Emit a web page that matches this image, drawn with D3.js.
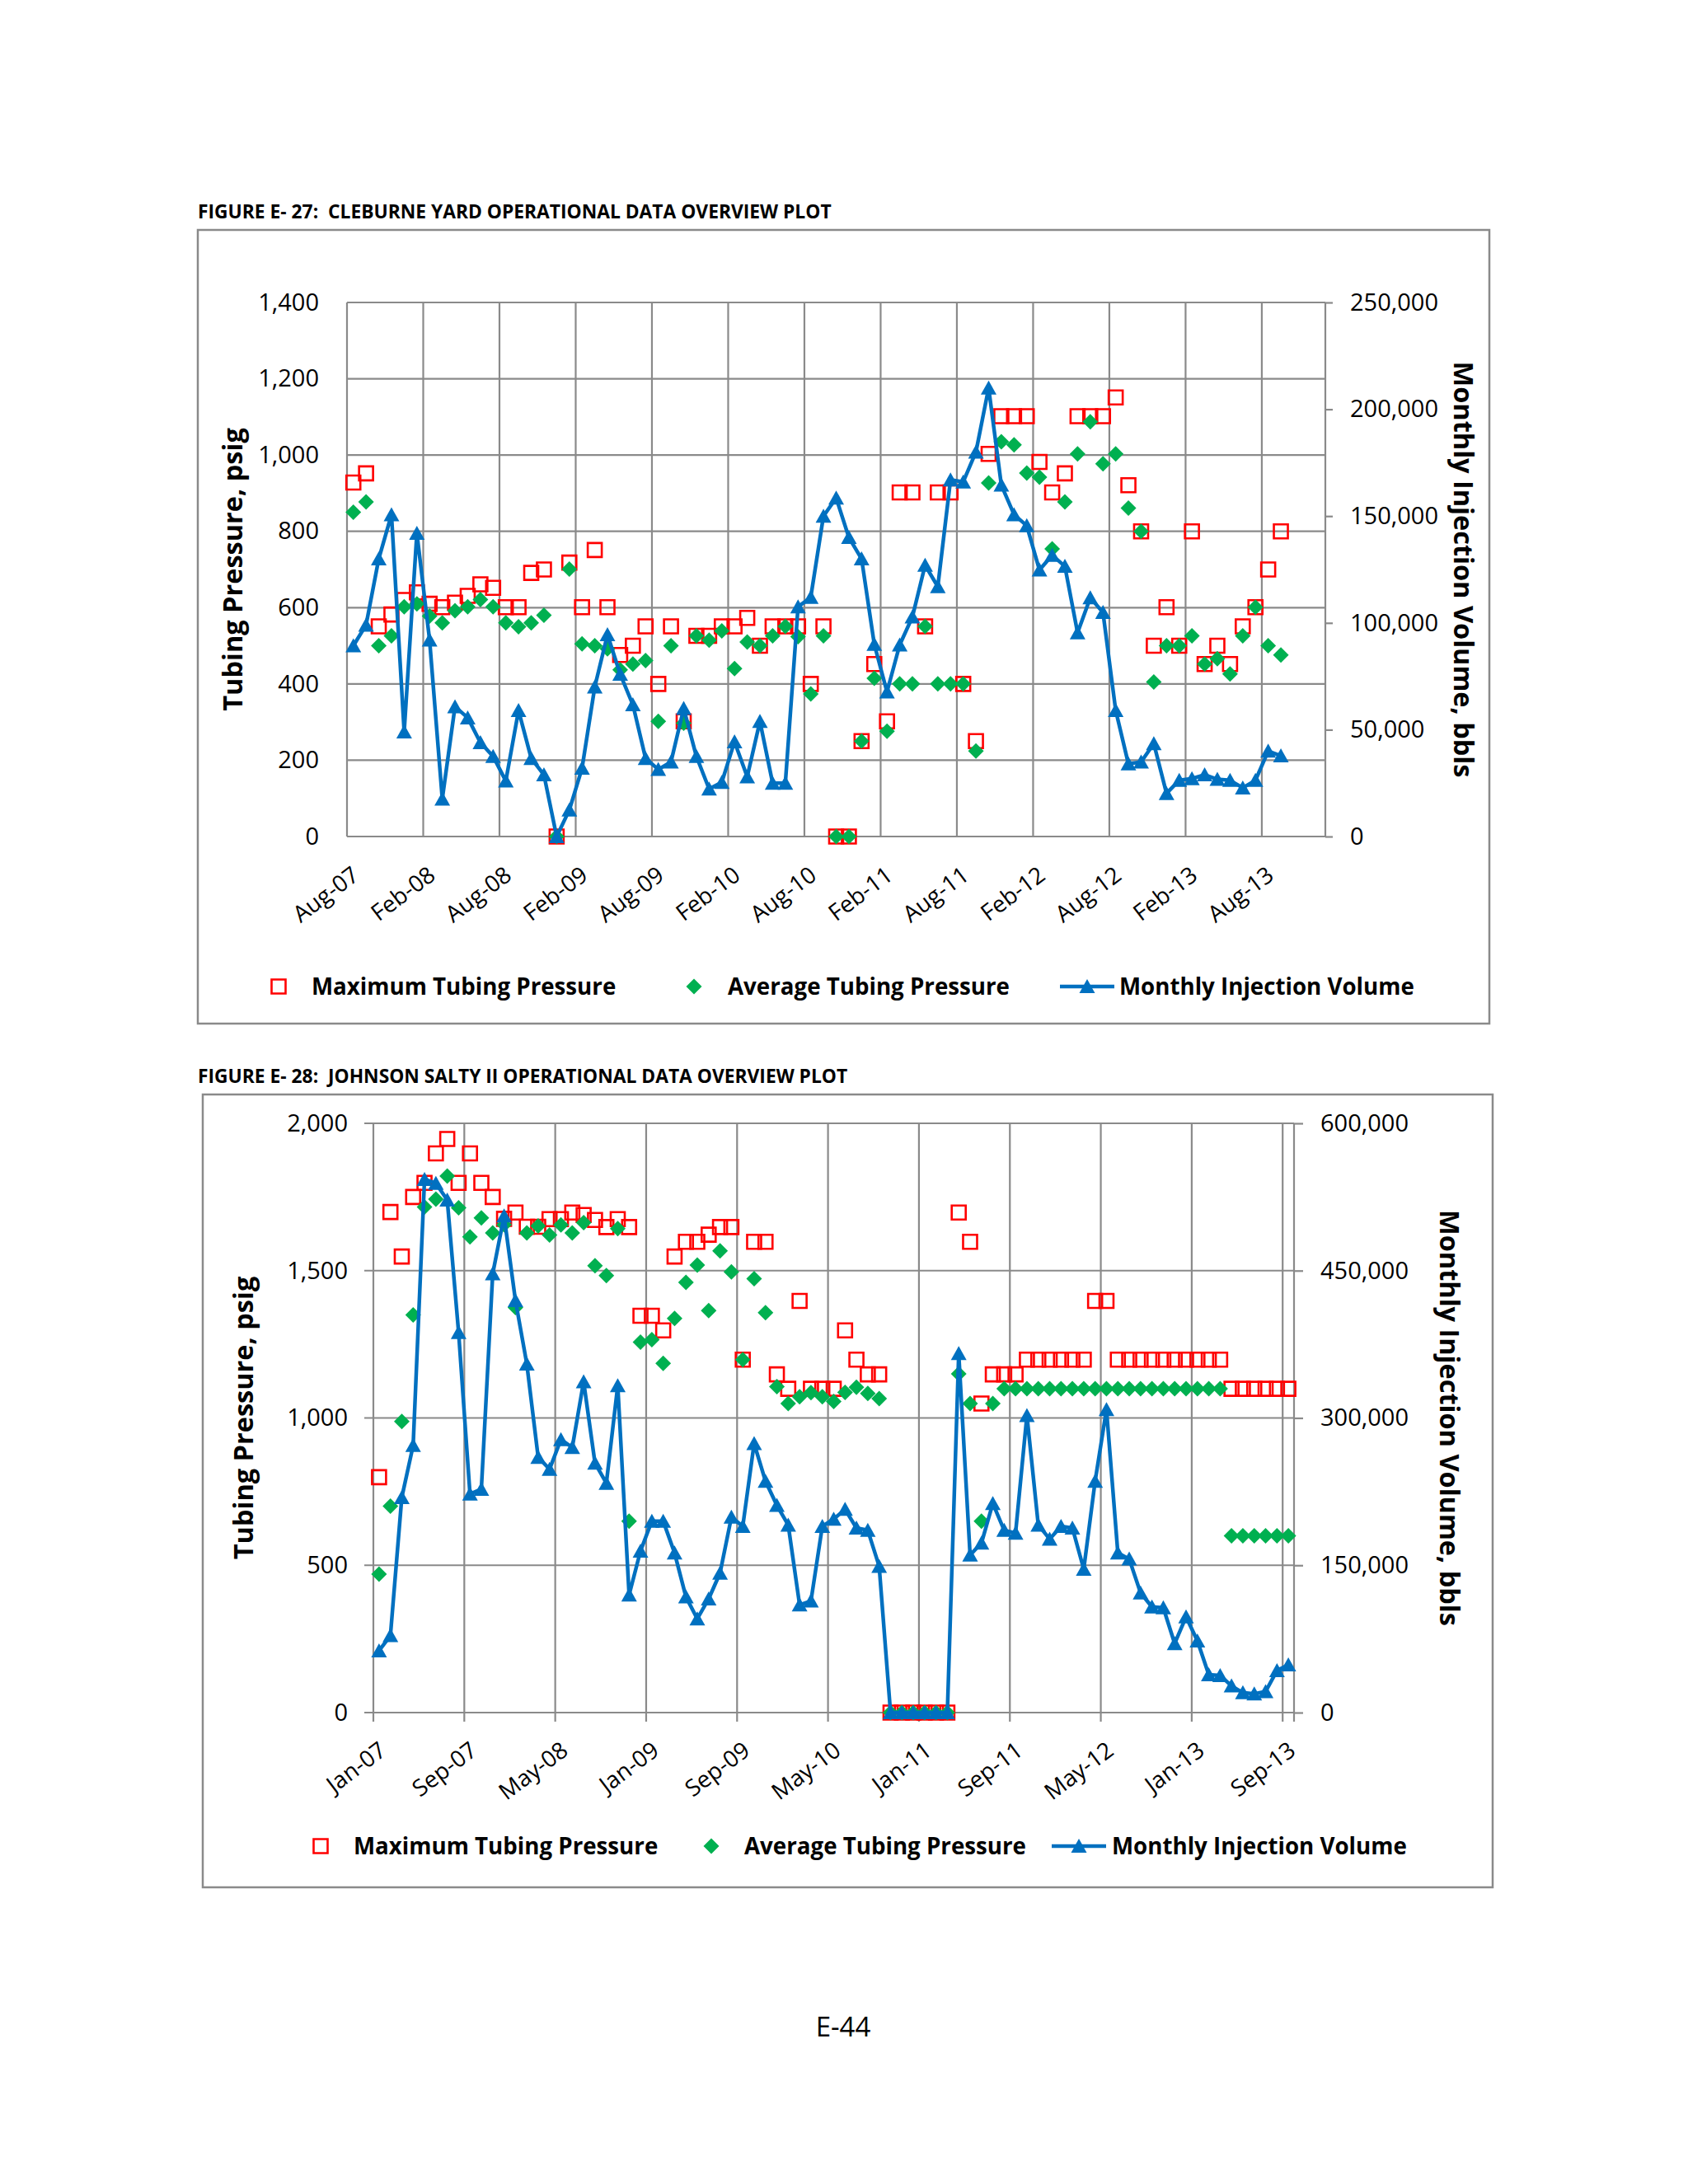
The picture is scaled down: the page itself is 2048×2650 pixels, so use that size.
<!DOCTYPE html>
<html><head><meta charset="utf-8">
<script src="https://cdn.jsdelivr.net/npm/d3@7"></script>
<style>
html,body{margin:0;padding:0;background:#fff;}
svg{display:block;}
text{font-family:"Open Sans",sans-serif;fill:#000;}
</style></head><body>
<svg id="page" width="2048" height="2650"></svg>
<script>
// ---------------- DATA: Figure E-27 (Cleburne Yard) ----------------
const cleburneTitle = "FIGURE E- 27:  CLEBURNE YARD OPERATIONAL DATA OVERVIEW PLOT";
const cleburneFirstMonth = "2007-08";
const cleburneMaxPressure = [
  928, 952, 551, 582, 620, 640, 610, 601, 613, 631,
  661, 652, 601, 601, 691, 700, 0, 718, 601, 751,
  601, 476, 500, 551, 400, 551, 302, 526, 526, 551,
  551, 573, 500, 551, 551, 551, 400, 551, 0, 0,
  250, 452, 302, 902, 902, 551, 902, 902, 400, 250,
  1003, 1102, 1102, 1102, 982, 902, 952, 1102, 1102, 1102,
  1151, 921, 800, 500, 601, 500, 800, 452, 500, 452,
  551, 601, 700, 800];
const cleburneAvgPressure = [
  850, 877, 500, 526, 602, 610, 578, 560, 592, 602,
  621, 602, 560, 550, 560, 580, 0, 701, 505, 500,
  492, 437, 452, 461, 302, 500, 297, 526, 515, 539,
  440, 510, 500, 526, 551, 524, 374, 526, 0, 0,
  250, 415, 276, 400, 400, 551, 400, 400, 400, 224,
  927, 1035, 1027, 953, 942, 754, 877, 1003, 1087, 977,
  1003, 861, 800, 405, 500, 500, 526, 452, 466, 426,
  526, 601, 500, 476];
const cleburneVolume = [
  89300, 99000, 130000, 150700, 49000, 142000, 92000, 17600, 60800, 55600,
  44000, 37500, 26000, 59000, 36600, 28900, 0, 12400, 32000, 70000,
  94500, 76000, 61700, 36600, 31400, 34900, 60000, 37500, 22300, 25400,
  44400, 28000, 53900, 25000, 25000, 107500, 112000, 150000, 158500, 140000,
  130000, 90000, 67700, 89700, 102800, 127000, 117000, 167000, 166000, 180000,
  210000, 164500, 150700, 145500, 124800, 131700, 126500, 95400, 111800, 104900,
  59000, 34000, 34900, 43500, 20200, 26300, 27100, 28900, 26800, 26300,
  22800, 26300, 40000, 37800];
const cleburneXTicks = ["Aug-07","Feb-08","Aug-08","Feb-09","Aug-09","Feb-10","Aug-10",
  "Feb-11","Aug-11","Feb-12","Aug-12","Feb-13","Aug-13"];
const cleburneAxisEnd = "Jan-14";
const cleburneYTicks = [0, 200, 400, 600, 800, 1000, 1200, 1400];
const cleburneY2Ticks = [0, 50000, 100000, 150000, 200000, 250000];

// ---------------- DATA: Figure E-28 (Johnson Salty II) ----------------
const johnsonTitle = "FIGURE E- 28:  JOHNSON SALTY II OPERATIONAL DATA OVERVIEW PLOT";
const johnsonFirstMonth = "2007-01";
const johnsonMaxPressure = [
  799, 1699, 1548, 1750, 1798, 1898, 1947, 1798, 1898, 1798,
  1750, 1676, 1697, 1649, 1649, 1675, 1675, 1697, 1689, 1672,
  1648, 1675, 1648, 1347, 1347, 1297, 1548, 1598, 1598, 1622,
  1648, 1648, 1198, 1598, 1598, 1148, 1099, 1397, 1099, 1099,
  1099, 1297, 1198, 1148, 1148, 0, 0, 0, 0, 0,
  0, 1697, 1598, 1049, 1148, 1148, 1148, 1198, 1198, 1198,
  1198, 1198, 1198, 1397, 1397, 1198, 1198, 1198, 1198, 1198,
  1198, 1198, 1198, 1198, 1198, 1099, 1099, 1099, 1099, 1099,
  1099];
const johnsonAvgPressure = [
  470, 701, 988, 1350, 1716, 1743, 1821, 1713, 1615, 1679,
  1628, 1656, 1375, 1628, 1652, 1621, 1655, 1628, 1663, 1517,
  1483, 1643, 650, 1257, 1266, 1185, 1338, 1460, 1519, 1364,
  1567, 1496, 1198, 1473, 1357, 1106, 1049, 1072, 1086, 1072,
  1056, 1087, 1104, 1083, 1066, 0, 0, 0, 0, 0,
  0, 1150, 1049, 650, 1049, 1099, 1099, 1099, 1099, 1099,
  1099, 1099, 1099, 1099, 1099, 1099, 1099, 1099, 1099, 1099,
  1099, 1099, 1099, 1099, 1099, 600, 600, 600, 600, 600,
  600];
const johnsonVolume = [
  63000, 78400, 219000, 272000, 543000, 539000, 522000, 387000, 222600, 227500,
  446800, 505700, 419600, 355000, 260000, 247800, 278000, 270000, 337000, 254000,
  233600, 333000, 119800, 164500, 195000, 195000, 162500, 117800, 95500, 115800,
  142000, 199000, 189700, 274000, 235600, 211000, 191000, 109700, 113700, 189700,
  197000, 207000, 188000, 185600, 149000, 0, 0, 0, 0, 0,
  0, 365600, 160400, 172600, 213000, 185600, 182800, 302600, 191000, 176700,
  189700, 188000, 146000, 235600, 308700, 162500, 156400, 121900, 107600, 106800,
  70300, 97500, 73000, 38600, 37800, 27200, 20300, 19100, 21500, 42700,
  48700];
const johnsonXTicks = ["Jan-07","Sep-07","May-08","Jan-09","Sep-09","May-10",
  "Jan-11","Sep-11","May-12","Jan-13","Sep-13"];
const johnsonAxisEnd = "Oct-13";
const johnsonYTicks = [0, 500, 1000, 1500, 2000];
const johnsonY2Ticks = [0, 150000, 300000, 450000, 600000];

const legendLabels = ["Maximum Tubing Pressure", "Average Tubing Pressure", "Monthly Injection Volume"];
const yTitle = "Tubing Pressure, psig";
const y2Title = "Monthly Injection Volume, bbls";
const pageNumber = "E-44";

// ---------------- DRAWING ----------------
const RED = "#ff0000", GREEN = "#00b050", BLUE = "#0070c0", GRID = "#8a8a8a";
const parseMonth = d3.timeParse("%Y-%m");
const parseTick = d3.timeParse("%b-%y");
const monthIndex = (d, s) => (d.getFullYear() - s.getFullYear()) * 12 + d.getMonth() - s.getMonth();
const svg = d3.select("#page");
const fmt = d3.format(",");

const squarePath = "M-8.5,-8.5H8.5V8.5H-8.5Z";
const diamondPath = "M0,-9.5L9.5,0L0,9.5L-9.5,0Z";
const trianglePath = "M0,-9L9.5,8L-9.5,8Z";

function drawChart(o) {
  const root = svg.append("g");
  root.append("rect")
    .attr("x", o.box[0]).attr("y", o.box[1])
    .attr("width", o.box[2] - o.box[0]).attr("height", o.box[3] - o.box[1])
    .attr("fill", "#fff").attr("stroke", GRID).attr("stroke-width", 2.5);
  svg.append("text").attr("x", o.titleX).attr("y", o.titleY)
    .attr("font-size", 22.8).attr("font-weight", 700)
    .style("white-space", "pre").text(o.title);

  const axisStart = parseTick(o.xTicks[0]);
  const span = monthIndex(parseTick(o.axisEnd), axisStart);
  const months = d3.timeMonth.range(parseMonth(o.firstMonth), d3.timeMonth.offset(parseMonth(o.firstMonth), o.volume.length));
  const xi = months.map(m => monthIndex(m, axisStart) + 0.5);

  const x = d3.scaleLinear().domain([0, span]).range([o.left, o.right]);
  const yL = d3.scaleLinear().domain(d3.extent(o.yTicks)).range([o.bottom, o.top]);
  const yR = d3.scaleLinear().domain(d3.extent(o.y2Ticks)).range([o.bottom, o.top]);

  // horizontal gridlines
  root.append("g").selectAll("line").data(o.yTicks).join("line")
    .attr("x1", o.left - o.yTickOut).attr("x2", o.right)
    .attr("y1", d => yL(d)).attr("y2", d => yL(d))
    .attr("stroke", GRID).attr("stroke-width", 2.2);
  // vertical gridlines
  const tickM = o.xTicks.map(s => monthIndex(parseTick(s), axisStart));
  root.append("g").selectAll("line").data(tickM).join("line")
    .attr("x1", d => x(d)).attr("x2", d => x(d))
    .attr("y1", o.top).attr("y2", o.bottom + o.xTickOut)
    .attr("stroke", GRID).attr("stroke-width", 2.2);
  // right axis line
  root.append("line").attr("x1", o.right).attr("x2", o.right)
    .attr("y1", o.top).attr("y2", o.bottom + o.xTickOut)
    .attr("stroke", GRID).attr("stroke-width", 2.2);

  // left labels
  const la = root.append("g").attr("transform", `translate(${o.left},0)`)
    .call(d3.axisLeft(yL).tickValues(o.yTicks).tickSize(0).tickPadding(o.yPad).tickFormat(fmt));
  la.select(".domain").remove();
  la.selectAll("text").attr("font-size", 29).attr("font-family", "'Open Sans', sans-serif");
  // right axis
  const ra = root.append("g").attr("transform", `translate(${o.right},0)`)
    .call(d3.axisRight(yR).tickValues(o.y2Ticks).tickSize(o.y2TickOut).tickPadding(o.y2Pad).tickFormat(fmt));
  ra.select(".domain").remove();
  ra.selectAll("line").attr("stroke", GRID).attr("stroke-width", 2.2);
  ra.selectAll("text").attr("font-size", 29).attr("font-family", "'Open Sans', sans-serif");

  // x labels
  root.append("g").selectAll("text").data(o.xTicks).join("text")
    .attr("transform", (d, i) => `translate(${x(tickM[i]) + o.xLabDx},${o.bottom + o.xLabDy}) rotate(${o.xLabRot})`)
    .attr("text-anchor", "end").attr("dy", "0.74em")
    .attr("font-size", 28).text(d => d);

  // series: max pressure squares
  root.append("g").selectAll("path").data(o.maxP).join("path")
    .attr("d", squarePath)
    .attr("transform", (d, i) => `translate(${x(xi[i])},${yL(d)})`)
    .attr("fill", "none").attr("stroke", RED).attr("stroke-width", 2.6);
  // avg pressure diamonds
  root.append("g").selectAll("path").data(o.avgP).join("path")
    .attr("d", diamondPath)
    .attr("transform", (d, i) => `translate(${x(xi[i])},${yL(d)})`)
    .attr("fill", GREEN);
  // volume line
  const line = d3.line().x((d, i) => x(xi[i])).y(d => yR(d));
  root.append("path").datum(o.volume).attr("d", line)
    .attr("fill", "none").attr("stroke", BLUE).attr("stroke-width", 4.5).attr("stroke-linejoin", "round");
  root.append("g").selectAll("path").data(o.volume).join("path")
    .attr("d", trianglePath)
    .attr("transform", (d, i) => `translate(${x(xi[i])},${yR(d)})`)
    .attr("fill", BLUE);

  // axis titles
  const cy = (o.top + o.bottom) / 2;
  root.append("text").attr("transform", `translate(${o.yTitleX},${cy}) rotate(-90)`)
    .attr("text-anchor", "middle").attr("dy", "0.35em")
    .attr("font-size", 32.5).attr("font-weight", 700).text(yTitle);
  root.append("text").attr("transform", `translate(${o.y2TitleX},${cy}) rotate(90)`)
    .attr("text-anchor", "middle").attr("dy", "0.35em")
    .attr("font-size", 32.5).attr("font-weight", 700).text(y2Title);

  // legend
  const L = o.legend;
  const lg = root.append("g");
  lg.append("path").attr("d", squarePath).attr("transform", `translate(${L.sq},${L.y})`)
    .attr("fill", "none").attr("stroke", RED).attr("stroke-width", 2.6);
  lg.append("path").attr("d", diamondPath).attr("transform", `translate(${L.di},${L.y})`).attr("fill", GREEN);
  lg.append("line").attr("x1", L.ln[0]).attr("x2", L.ln[1]).attr("y1", L.y).attr("y2", L.y)
    .attr("stroke", BLUE).attr("stroke-width", 4.5);
  lg.append("path").attr("d", trianglePath).attr("transform", `translate(${(L.ln[0] + L.ln[1]) / 2},${L.y})`).attr("fill", BLUE);
  lg.selectAll("text").data(legendLabels).join("text")
    .attr("x", (d, i) => L.tx[i]).attr("y", L.y).attr("dy", "0.35em")
    .attr("font-size", 27.7).attr("font-weight", 700).text(d => d);
}

drawChart({
  title: cleburneTitle, titleX: 240, titleY: 265,
  box: [240, 279, 1807, 1242],
  left: 421, right: 1608, top: 367, bottom: 1015,
  firstMonth: cleburneFirstMonth, xTicks: cleburneXTicks, axisEnd: cleburneAxisEnd,
  yTicks: cleburneYTicks, y2Ticks: cleburneY2Ticks,
  maxP: cleburneMaxPressure, avgP: cleburneAvgPressure, volume: cleburneVolume,
  yTickOut: 0, xTickOut: 0, yPad: 34, y2TickOut: 9, y2Pad: 21,
  xLabDx: 4, xLabDy: 34, xLabRot: -37,
  yTitleX: 283, y2TitleX: 1775,
  legend: { y: 1197, sq: 338, di: 842, ln: [1286, 1352], tx: [378, 883, 1358] }
});

drawChart({
  title: johnsonTitle, titleX: 240, titleY: 1314,
  box: [246, 1328, 1811, 2290],
  left: 453, right: 1570, top: 1363, bottom: 2078,
  firstMonth: johnsonFirstMonth, xTicks: johnsonXTicks, axisEnd: johnsonAxisEnd,
  yTicks: johnsonYTicks, y2Ticks: johnsonY2Ticks,
  maxP: johnsonMaxPressure, avgP: johnsonAvgPressure, volume: johnsonVolume,
  yTickOut: 11, xTickOut: 11, yPad: 31, y2TickOut: 11, y2Pad: 21,
  xLabDx: 5, xLabDy: 33, xLabRot: -37,
  yTitleX: 296, y2TitleX: 1758,
  legend: { y: 2240, sq: 389, di: 863, ln: [1276, 1342], tx: [429, 903, 1349] }
});

svg.append("text").attr("x", 1023).attr("y", 2459).attr("dy", "0.35em")
  .attr("text-anchor", "middle").attr("font-size", 33).text(pageNumber);
</script></body></html>
